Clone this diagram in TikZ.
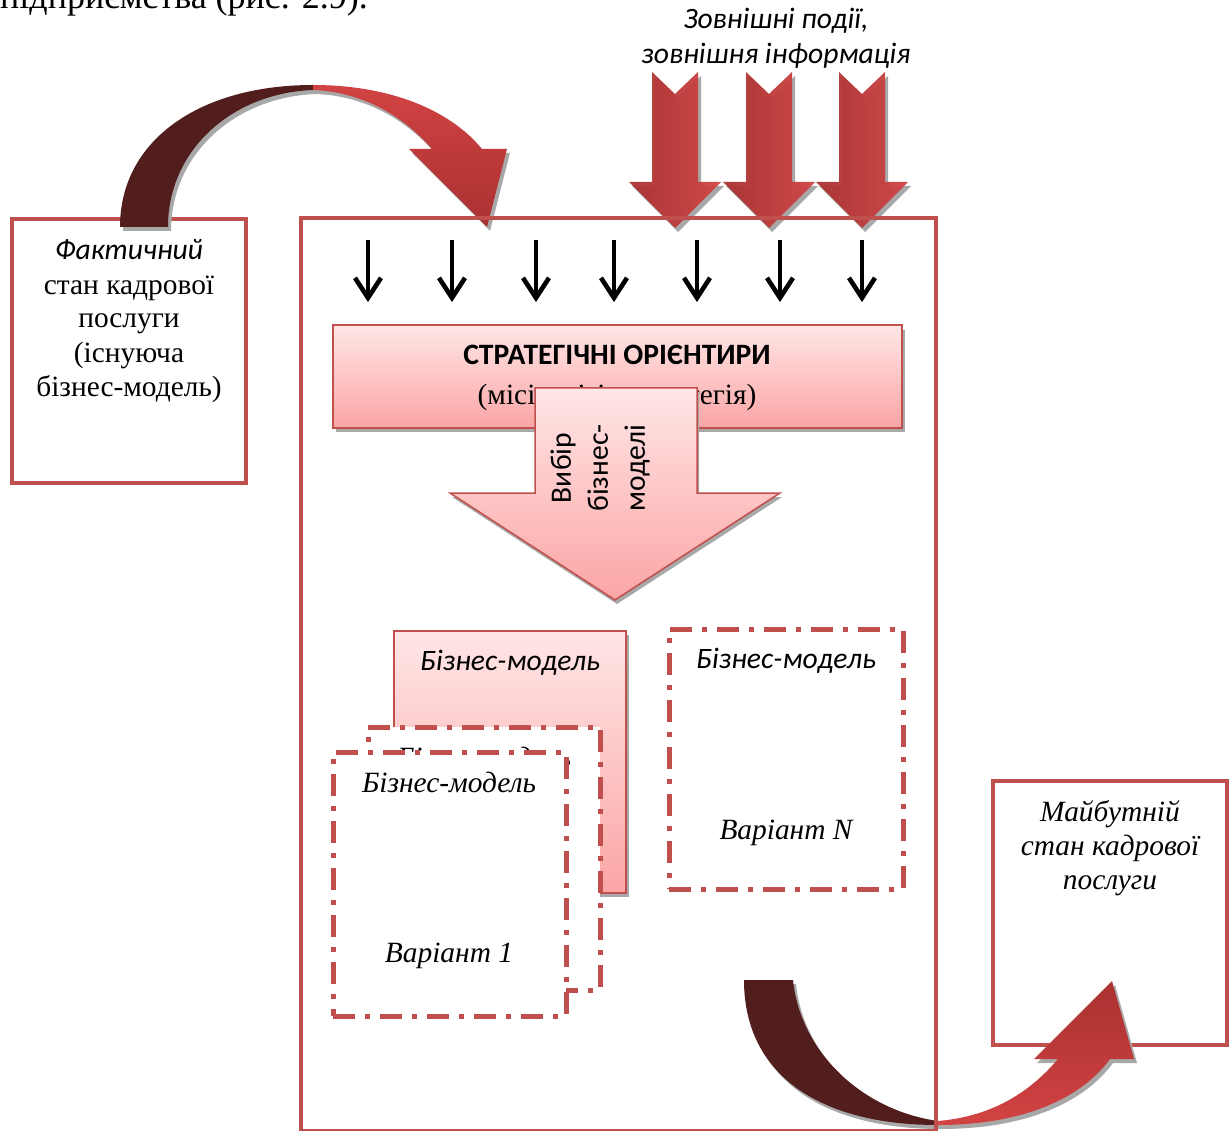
\documentclass[tikz,border=0pt]{standalone}
\usepackage{fontspec}
\setmainfont{Liberation Serif}
\newfontfamily\calibri{Carlito}
\usetikzlibrary{arrows.meta}

\definecolor{accent}{HTML}{C0504D}
\definecolor{pinkTop}{HTML}{FFE6E6}
\definecolor{pinkBot}{HTML}{FBA5A5}
\definecolor{maroon}{HTML}{521D1D}
\definecolor{redDark}{HTML}{A93130}
\definecolor{redLight}{HTML}{D24343}
\definecolor{shadowgray}{HTML}{A8A8A8}

\tikzset{
  serif/.style={font=\fontsize{29.4}{35}\selectfont, inner sep=0pt, anchor=base},
  serifit/.style={serif, font=\fontsize{29.4}{35}\selectfont\itshape},
  sansit/.style={serif, font=\fontsize{29.6}{35}\selectfont\calibri\itshape},
  sansbf/.style={serif, font=\fontsize{29.6}{35}\selectfont\calibri\bfseries},
  framebox/.style={draw=accent, line width=4.5pt, fill=white},
  pinkbox/.style={draw=accent, line width=1.5pt, top color=pinkTop, bottom color=pinkBot},
  variantbox/.style={draw=accent, line width=5pt, fill=white,
    dash pattern=on 22pt off 10pt on 5pt off 10pt},
  dropshadow/.style={fill=shadowgray},
  thinarrow/.style={line width=4.5pt, -{Straight Barb[length=20pt,width=26pt]}},
}

% block arrow pointing down, centred on x = #1
\newcommand{\blockdown}[1]{
  (#1-23,72) -- (#1,94) -- (#1+23,72) -- (#1+23,182) -- (#1+46,182) --
  (#1,228) -- (#1-46,182) -- (#1-23,182) -- cycle}

\begin{document}
\begin{tikzpicture}[x=1pt,y=-1pt]
\useasboundingbox (0,0) rectangle (1232,1131);
\fill[white] (0,0) rectangle (1232,1131);

% tail of the running text above the figure
\node[font=\fontsize{36}{40}\selectfont, inner sep=0pt, anchor=base west] (caption) at (0,9)
  {підприємства (рис. 2.9).};

% current state box
\node[framebox, minimum width=234pt, minimum height=264pt] (current) at (129,351) {};
\node[sansit] (cur1) at (129,260) {Фактичний};
\node[serif] (cur2) at (129,295) {стан кадрової};
\node[serif] (cur3) at (129,328) {послуги};
\node[serif] (cur4) at (129,363) {(існуюча};
\node[serif] (cur5) at (129,397) {бізнес-модель)};

% curved arrow from the current state into the frame
\begin{scope}[shift={(3,4)}]
  \fill[dropshadow] (120,227) .. controls (120,140) and (200,85) .. (313,85)
    .. controls (390,85) and (450,110) .. (482,149) -- (507,149) -- (487,227)
    -- (409,149) -- (432,149) .. controls (405,118) and (365,92) .. (313,90)
    .. controls (232,93) and (168,150) .. (168,227) -- cycle;
\end{scope}
\fill[maroon] (120,227) .. controls (120,140) and (200,85) .. (313,85)
  -- (313,90) .. controls (232,93) and (168,150) .. (168,227) -- cycle;
\shade[top color=redLight, bottom color=redDark]
  (313,85) .. controls (390,85) and (450,110) .. (482,149) -- (507,149)
  -- (487,227) -- (409,149) -- (432,149) .. controls (405,118) and (365,92)
  .. (313,90) -- cycle;

% external events
\node[sansit] (ext1) at (776,29) {Зовнішні події,};
\node[sansit] (ext2) at (776,64) {зовнішня інформація};
\foreach \cx in {675,769,862} {
  \fill[dropshadow, shift={(3,4)}] \blockdown{\cx};
  \shade[left color=redDark, right color=redLight, fill opacity=0.95] \blockdown{\cx};
}

% small input arrows
\foreach \ax [count=\i] in {368,452,536,614,697,780,862} {
  \coordinate (in\i) at (\ax,240);
  \coordinate (out\i) at (\ax,302);
  \draw[thinarrow, shadowgray, shift={(2,3)}] (in\i) -- (out\i);
  \draw[thinarrow, black] (in\i) -- (out\i);
}

% strategic orientation bar
\fill[dropshadow] (336,330) rectangle (905,432);
\node[pinkbox, minimum width=569pt, minimum height=103pt] (strat) at (617.5,376.5) {};
\node[sansbf] (strat1) at (617,365) {СТРАТЕГІЧНІ ОРІЄНТИРИ};
\node[serif] (strat2) at (617,405) {(місія, візія, стратегія)};

% choice arrow
\fill[dropshadow, shift={(2,4)}] (535,388) -- (697,388) -- (697,493) -- (780,493)
  -- (615,600) -- (450,493) -- (535,493) -- cycle;
\draw[pinkbox] (535,388) -- (697,388) -- (697,493) -- (780,493)
  -- (615,600) -- (450,493) -- (535,493) -- cycle;
\node[rotate=90, align=center, inner sep=0pt,
  font=\fontsize{29.6}{37}\selectfont\calibri] (choice) at (600,468)
  {Вибір\\бізнес-\\моделі};

% stack of business model variants
\fill[dropshadow] (397,635) rectangle (629,897);
\node[pinkbox, minimum width=232pt, minimum height=262pt] (bmback) at (510,762) {};
\node[sansit] (bmback1) at (510,670) {Бізнес-модель};

\node[variantbox, minimum width=232pt, minimum height=263pt] (bmmid) at (484,858.5) {};
\node[serifit] (bmmid1) at (484,767) {Бізнес-модель};

\node[variantbox, minimum width=233pt, minimum height=264pt] (bmone) at (449.5,884) {};
\node[serifit] (bmone1) at (449,792) {Бізнес-модель};
\node[serifit] (bmone2) at (449,962) {Варіант 1};

\node[variantbox, minimum width=234pt, minimum height=260pt] (bmn) at (786,759) {};
\node[sansit] (bmn1) at (786,668) {Бізнес-модель};
\node[serifit] (bmn2) at (786,839) {Варіант N};

% future state box
\node[framebox, minimum width=234pt, minimum height=264pt] (future) at (1110,913) {};
\node[serifit] (fut1) at (1110,821) {Майбутній};
\node[serifit] (fut2) at (1110,855) {стан кадрової};
\node[serifit] (fut3) at (1110,889) {послуги};

% curved arrow from the frame to the future state
\begin{scope}[shift={(3,4)}]
  \fill[dropshadow] (744,980) .. controls (744,1075) and (820,1125) .. (938,1125)
    .. controls (1020,1125) and (1080,1100) .. (1110,1059) -- (1134,1059)
    -- (1112,981) -- (1034,1059) -- (1058,1059) .. controls (1025,1098) and (985,1117)
    .. (938,1121) .. controls (860,1110) and (800,1050) .. (793,980) -- cycle;
\end{scope}
\fill[maroon] (744,980) .. controls (744,1075) and (820,1125) .. (938,1125)
  -- (938,1121) .. controls (860,1110) and (800,1050) .. (793,980) -- cycle;
\shade[top color=redDark, bottom color=redLight]
  (938,1125) .. controls (1020,1125) and (1080,1100) .. (1110,1059) -- (1134,1059)
  -- (1112,981) -- (1034,1059) -- (1058,1059) .. controls (1025,1098) and (985,1117)
  .. (938,1121) -- cycle;

% enterprise frame
\draw[accent, line width=4pt] (301,218) rectangle (936,1131);
\end{tikzpicture}
\end{document}
